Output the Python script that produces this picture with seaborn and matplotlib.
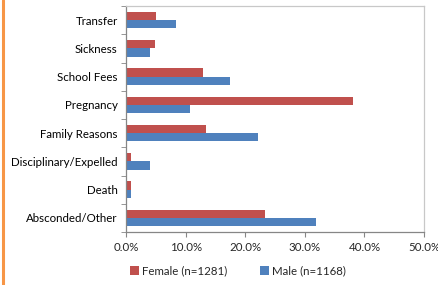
import numpy as np
import pandas as pd
import matplotlib
matplotlib.use("Agg")
import matplotlib.pyplot as plt
from matplotlib.ticker import FuncFormatter, FixedLocator
from matplotlib.lines import Line2D
import seaborn as sns

reasons = ["Transfer", "Sickness", "School Fees", "Pregnancy", "Family Reasons",
           "Disciplinary/Expelled", "Death", "Absconded/Other"]
female = [5.0, 4.8, 13.0, 38.1, 13.4, 0.9, 0.9, 23.3]
male = [8.4, 4.1, 17.4, 10.7, 22.1, 4.0, 0.9, 31.9]
groups = ["Female (n=1281)", "Male (n=1168)"]

df = pd.DataFrame({
    "reason": reasons * 2,
    "pct": female + male,
    "group": [groups[0]] * len(reasons) + [groups[1]] * len(reasons),
})

sns.set_style("white")
plt.rcParams["font.family"] = ["Lato", "DejaVu Sans"]
fs = 8.3

fig = plt.figure(figsize=(4.39, 2.85), dpi=100)
ax = fig.add_axes([126 / 439, 1 - 232 / 285, (424 - 126) / 439, (232 - 6) / 285])

sns.barplot(data=df, y="reason", x="pct", hue="group", order=reasons,
            hue_order=groups, palette=["#C0504D", "#4F81BD"], width=0.58,
            orient="h", ax=ax, edgecolor="none", saturation=1)

ax.set_xlim(0, 50)
ax.set_ylim(len(reasons) - 0.5, -0.5)
ax.set_xticks(np.arange(0, 51, 10))
ax.xaxis.set_major_formatter(FuncFormatter(lambda v, p: f"{v:.1f}%"))
ax.set_xlabel("")
ax.set_ylabel("")

# ticks at category boundaries on the y axis
ax.yaxis.set_minor_locator(FixedLocator(np.arange(-0.5, len(reasons), 1)))
ax.tick_params(axis="y", which="major", length=0, pad=6, labelsize=fs, colors="#000000")
ax.tick_params(axis="y", which="minor", length=3.5, color="#868686", left=True)
ax.tick_params(axis="x", which="major", length=3.5, color="#868686", bottom=True,
               labelsize=fs, pad=4)

for side in ["left", "bottom"]:
    ax.spines[side].set_color("#868686")
    ax.spines[side].set_linewidth(0.9)
for side in ["top", "right"]:
    ax.spines[side].set_visible(True)
    ax.spines[side].set_color("#c8c8c8")
    ax.spines[side].set_linewidth(0.9)

handles, labels = ax.get_legend_handles_labels()
ax.get_legend().remove()
fig.legend(handles, labels, loc="center", bbox_to_anchor=(238 / 439, 1 - 271 / 285),
           ncol=2, frameon=False, fontsize=fs, handlelength=0.75, handleheight=0.75,
           handletextpad=0.25, columnspacing=2.9)

fig.add_artist(Line2D([3 / 439, 3 / 439], [0, 1], color="#F79646", lw=2.2))

fig.savefig("out.png", dpi=100)
